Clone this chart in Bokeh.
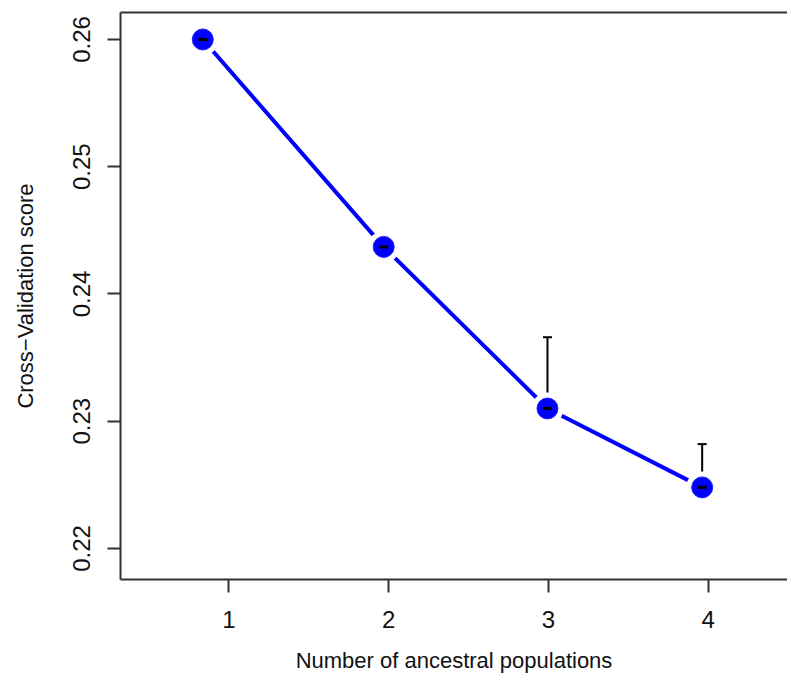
from bokeh.plotting import figure
from bokeh.models import LinearAxis, Range1d, FixedTicker, Whisker, TeeHead, ColumnDataSource
from bokeh.embed import file_html
from bokeh.resources import INLINE

# data
k_pos = [0.837, 1.969, 2.994, 3.962]
cv_score = [0.2600, 0.2437, 0.2310, 0.2248]
cv_upper = [0.2600, 0.2437, 0.2366, 0.2282]
x_ticks = [1, 2, 3, 4]
y_ticks = [0.22, 0.23, 0.24, 0.25, 0.26]

FONT = "Liberation Sans"
AX = "#333333"

p = figure(width=787, height=682, output_backend="svg", toolbar_location=None,
           x_range=Range1d(0.322, 4.496), y_range=Range1d(0.21756, 0.26212),
           x_axis_location=None, y_axis_location=None,
           min_border_left=120, min_border_right=0, min_border_top=12, min_border_bottom=103)
p.outline_line_color = None
p.grid.visible = False
p.background_fill_color = "white"
p.border_fill_color = "white"

def style(ax):
    ax.axis_line_color = AX
    ax.axis_line_width = 2
    ax.major_tick_line_color = AX
    ax.major_tick_line_width = 2
    ax.major_tick_in = 0
    ax.major_tick_out = 13
    ax.minor_tick_line_color = None
    ax.major_label_text_font = FONT
    ax.major_label_text_font_size = "24px"
    ax.major_label_text_color = "#111111"
    ax.axis_label_text_font = FONT
    ax.axis_label_text_font_size = "22px"
    ax.axis_label_text_font_style = "normal"
    ax.axis_label_text_color = "#111111"

xa = LinearAxis(ticker=FixedTicker(ticks=x_ticks), axis_label="Number of ancestral populations")
style(xa)
xa.major_label_standoff = 18
xa.axis_label_standoff = 17
p.add_layout(xa, "below")

ya = LinearAxis(ticker=FixedTicker(ticks=y_ticks), axis_label="Cross\u2212Validation score")
style(ya)
ya.major_label_orientation = "vertical"
ya.major_label_standoff = 17
ya.axis_label_standoff = 33
p.add_layout(ya, "left")

top = LinearAxis(ticker=FixedTicker(ticks=[]))
top.axis_line_color = AX
top.axis_line_width = 2
top.major_tick_line_color = None
top.minor_tick_line_color = None
top.major_label_text_font_size = "0px"
top.major_label_standoff = 0
top.major_tick_out = 0
top.major_tick_in = 0
p.add_layout(top, "above")

src = ColumnDataSource(dict(x=k_pos, y=cv_score, up=cv_upper))

p.line("x", "y", source=src, line_color="#0000FF", line_width=4)
p.scatter("x", "y", source=src, size=32, fill_color="white", line_color=None)
p.scatter("x", "y", source=src, size=21, fill_color="#0000FF", line_color="#2020FF", line_width=1)
w = Whisker(base="x", lower="y", upper="up", source=src, dimension="height",
            line_color="black", line_width=2,
            upper_head=TeeHead(size=9, line_color="black", line_width=2),
            lower_head=None)
p.add_layout(w)
p.scatter("x", "y", source=src, marker="dash", size=9, line_color="black", line_width=3)

open("out.html", "w").write(file_html(p, INLINE))
